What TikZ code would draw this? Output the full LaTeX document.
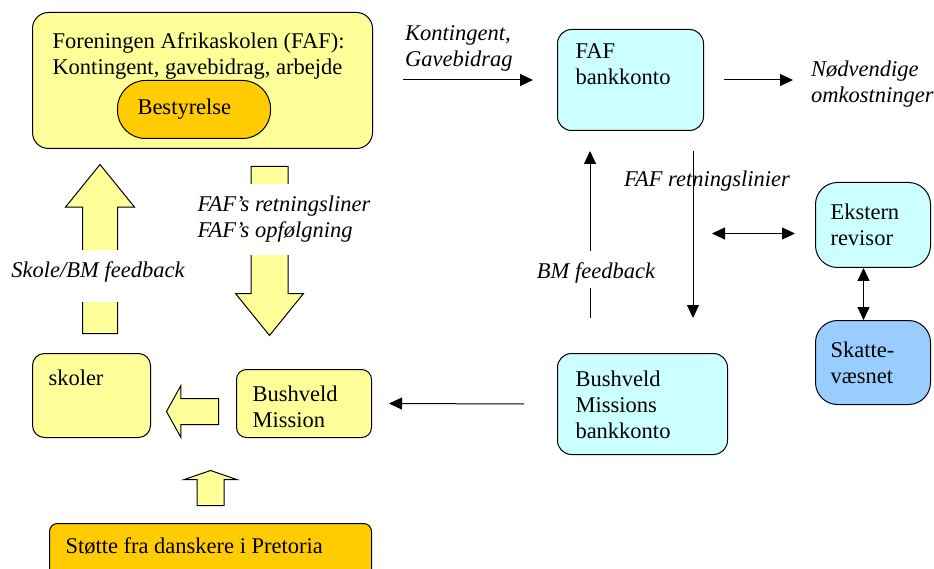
\documentclass[tikz,border=0pt]{standalone}
\usepackage{fontspec}
\setmainfont{Liberation Serif}
\usetikzlibrary{arrows.meta,shapes.arrows,positioning}

\definecolor{fafyellow}{HTML}{FFFF99}
\definecolor{faforange}{HTML}{FFCC00}
\definecolor{bankcyan}{HTML}{CCFFFF}
\definecolor{taxblue}{HTML}{99CCFF}

\newcommand{\fs}{\fontsize{22.5}{26}\selectfont}
\newcommand{\boxtxt}[3]{\parbox[c][#2][t]{#1}{\raggedright #3}}

\begin{document}
\begin{tikzpicture}[x=1pt, y=-1pt]

\tikzstyle{unit} = [draw, line width=1pt, anchor=north west, align=left, font=\fs]
\tikzstyle{yellowbox} = [unit, fill=fafyellow]
\tikzstyle{orangebox} = [unit, fill=faforange]
\tikzstyle{cyanbox} = [unit, fill=bankcyan]
\tikzstyle{bluebox} = [unit, fill=taxblue]
\tikzstyle{lbl} = [font=\fs\itshape, inner sep=0]
\tikzstyle{arr} = [-{Triangle[length=13pt,width=12pt]}, line width=1pt]
\tikzstyle{dblarr} = [{Triangle[length=13pt,width=12pt]}-{Triangle[length=13pt,width=12pt]}, line width=1pt]
\tikzstyle{blockarrow} = [single arrow, draw, fill=fafyellow, line width=1pt, single arrow head indent=0pt]

\useasboundingbox (0,0) rectangle (934,569);
\clip (0,0) rectangle (934,569);

% left side: FAF and Bushveld Mission
\node [yellowbox, rounded corners=16pt, inner xsep=20pt, inner ysep=20pt] (faf) at (32,12) {\boxtxt{300pt}{96pt}{Foreningen Afrikaskolen (FAF):\\Kontingent, gavebidrag, arbejde}};
\node [orangebox, rounded corners=28pt, minimum width=153pt, minimum height=58pt, text width=113pt, inner xsep=20pt] (best) at (117,80) {Bestyrelse};

\node [yellowbox, rounded corners=12pt, inner xsep=16pt, inner ysep=16pt] (skoler) at (32,353) {\boxtxt{86pt}{52pt}{skoler}};
\node [yellowbox, rounded corners=10pt, inner xsep=16pt, inner ysep=16pt] (bm) at (236,369) {\boxtxt{103pt}{36pt}{Bushveld\\Mission}};
\node [orangebox, rounded corners=8pt, inner xsep=16pt, inner ysep=14pt] (stotte) at (49,523) {\boxtxt{290pt}{40pt}{Støtte fra danskere i Pretoria}};

% block arrows
\node [blockarrow, shape border rotate=90, inner sep=17pt, minimum height=169pt, minimum width=68pt, single arrow head extend=17pt, single arrow tip angle=78, anchor=tail] (fbarrow) at ([xshift=8.5pt,yshift=19pt]skoler.north) {};
\node [blockarrow, shape border rotate=270, inner sep=18pt, minimum height=169pt, minimum width=67pt, single arrow head extend=15.5pt, single arrow tip angle=78, anchor=tail] (guidearrow) at ([xshift=67pt,yshift=-17pt]faf.south) {};
\node [blockarrow, shape border rotate=180, inner sep=12.5pt, minimum height=52pt, minimum width=51pt, single arrow head extend=13pt, single arrow tip angle=122, anchor=tail] (bmarrow) at ([xshift=-17pt,yshift=-8pt]bm.west) {};
\node [blockarrow, shape border rotate=90, inner sep=13pt, minimum height=35pt, minimum width=52pt, single arrow head extend=13pt, single arrow tip angle=142, anchor=tail] (dkarrow) at ([yshift=17pt]stotte.north) {};

\node [lbl, fill=white, text height=28pt, text depth=24pt, anchor=base] (fbtxt) at ([xshift=-2pt,yshift=56pt]fbarrow.tail) {Skole/BM feedback};
\node [lbl, fill=white, align=left, inner ysep=12pt, anchor=north west] (guidetxt) at ([xshift=-72pt,yshift=-18pt]guidearrow.tail) {FAF's retningsliner\\FAF's opfølgning};

% right side: bank accounts
\node [cyanbox, rounded corners=14pt, inner xsep=18pt, inner ysep=14pt] (fafbank) at (557,29) {\boxtxt{110pt}{73pt}{FAF\\bankkonto}};
\node [cyanbox, rounded corners=14pt, inner xsep=18pt, inner ysep=17pt, below=222pt of fafbank.south west, anchor=north west] (bmbank) {\boxtxt{134pt}{67pt}{Bushveld\\Missions\\bankkonto}};
\node [cyanbox, rounded corners=22pt, minimum width=115pt, minimum height=85pt, text width=85pt, inner xsep=15pt] (revisor) at (815,182) {Ekstern\\revisor};
\node [bluebox, rounded corners=22pt, minimum width=115pt, minimum height=84pt, text width=85pt, inner xsep=15pt, below=52pt of revisor] (skat) {Skatte-\\væsnet};

\coordinate [left=154pt of fafbank.west] (kontin);
\coordinate [right=89pt of fafbank.east] (udg);
\coordinate (revin) at ([xshift=-103pt,yshift=-8.5pt]revisor.west);

\draw[arr] (kontin) -- ([xshift=-24pt]fafbank.west);
\node [lbl, align=left, anchor=south west] (konttxt) at ([xshift=2pt,yshift=8.5pt]kontin) {Kontingent,\\Gavebidrag};
\draw[arr] ([xshift=20pt]fafbank.east) -- (udg);
\node [lbl, align=left, anchor=west] (udgtxt) at ([xshift=18pt,yshift=-4pt]udg) {Nødvendige\\omkostninger};

\draw[arr] ([xshift=33pt,yshift=35pt]bmbank.north west) -- node[lbl, pos=0.29, xshift=6pt, fill=white, text height=27pt, text depth=10pt] (bmfbtxt) {BM feedback} ([xshift=33pt,yshift=-20pt]fafbank.south west);
\draw[arr] ([xshift=136pt,yshift=-20pt]fafbank.south west) -- node[lbl, pos=0.21, anchor=base, xshift=14pt] (fafguidetxt) {FAF retningslinier} ([xshift=136pt,yshift=35pt]bmbank.north west);

\draw[dblarr] (revin) -- ([xshift=-20pt,yshift=-8.5pt]revisor.west);
\draw[dblarr] ([xshift=-9.5pt]revisor.south) -- ([xshift=-9.5pt]skat.north);

\draw[arr] ([xshift=-33pt]bmbank.west) -- ([xshift=17pt]bm.east);

\end{tikzpicture}
\end{document}
